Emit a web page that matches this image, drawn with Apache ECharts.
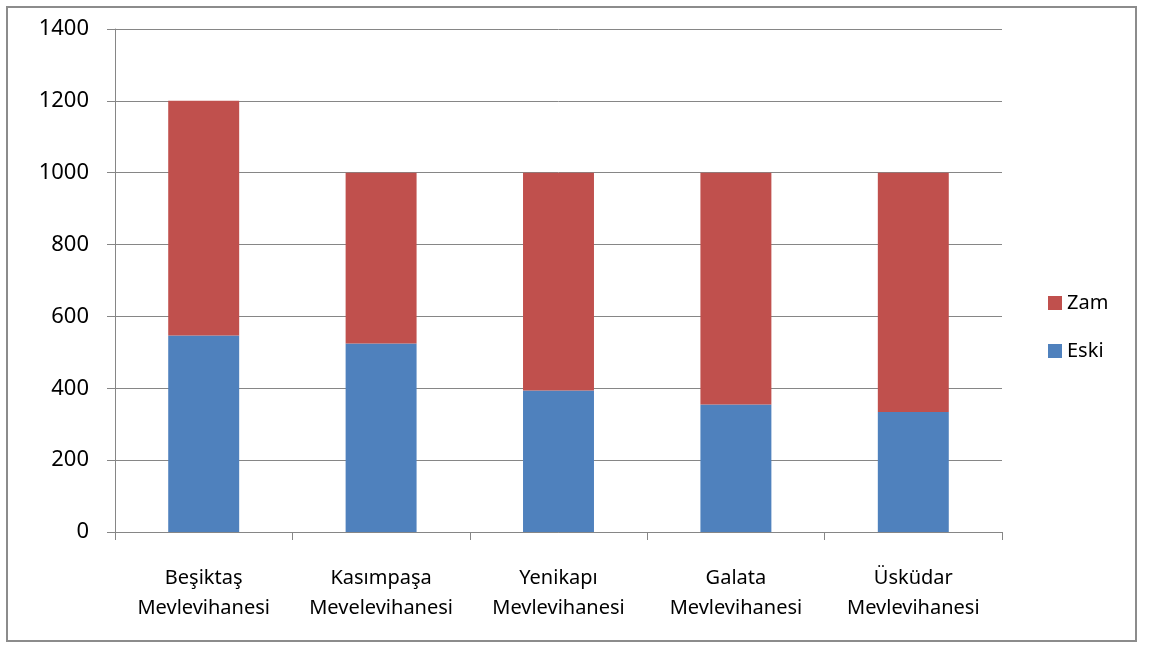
<!DOCTYPE html>
<html>
<head>
<meta charset="utf-8">
<script src="https://cdn.jsdelivr.net/npm/echarts@6/dist/echarts.min.js"></script>
<style>
    html, body { margin: 0; padding: 0; background: #fff; }
    #frame {
        position: absolute; left: 6px; top: 6px; width: 1131px; height: 636px;
        border: 2px solid #8c8c8c; box-sizing: border-box;
    }
    #chart { position: absolute; left: 0; top: 0; width: 1153px; height: 655px; }
</style>
</head>
<body>
<div id="frame"></div>
<div id="chart"></div>
<script>
// 数据
const categories = ['Beşiktaş\nMevlevihanesi', 'Kasımpaşa\nMevelevihanesi', 'Yenikapı\nMevlevihanesi', 'Galata\nMevlevihanesi', 'Üsküdar\nMevlevihanesi'];
const eski = [547, 525, 394, 355, 334];
const zam = [653, 475, 606, 645, 666];

document.addEventListener('DOMContentLoaded', function() {
    const chart = echarts.init(document.getElementById('chart'));
    const font = 'Noto Sans, Open Sans, sans-serif';
    const axisColor = '#868686';

    chart.setOption({
        animation: false,
        textStyle: { fontFamily: font },
        grid: { left: 115, right: 151, top: 29, bottom: 123 },
        legend: {
            orient: 'vertical',
            left: 1043,
            top: 288,
            itemGap: 28,
            itemWidth: 14,
            itemHeight: 14,
            icon: 'rect',
            textStyle: { fontSize: 20, color: '#000', fontFamily: font },
            data: ['Zam', 'Eski']
        },
        xAxis: {
            type: 'category',
            data: categories,
            axisLine: { lineStyle: { color: axisColor, width: 1 } },
            axisTick: { show: true, length: 8, interval: 0, lineStyle: { color: axisColor } },
            axisLabel: {
                color: '#000', fontSize: 20, lineHeight: 30, margin: 31,
                interval: 0, hideOverlap: false, fontFamily: font
            }
        },
        yAxis: {
            type: 'value',
            min: 0,
            max: 1400,
            interval: 200,
            axisLine: { show: true, lineStyle: { color: axisColor } },
            axisTick: { show: true, length: 8, lineStyle: { color: axisColor } },
            splitLine: { lineStyle: { color: axisColor, width: 1 } },
            axisLabel: { color: '#000', fontSize: 22, margin: 26, fontFamily: font, formatter: v => String(v) }
        },
        series: [
            {
                name: 'Eski',
                type: 'bar',
                stack: 'total',
                barWidth: '40%',
                itemStyle: { color: '#4f81bd' },
                data: eski
            },
            {
                name: 'Zam',
                type: 'bar',
                stack: 'total',
                barWidth: '40%',
                itemStyle: { color: '#c0504d' },
                data: zam
            }
        ]
    });
});
</script>
</body>
</html>
